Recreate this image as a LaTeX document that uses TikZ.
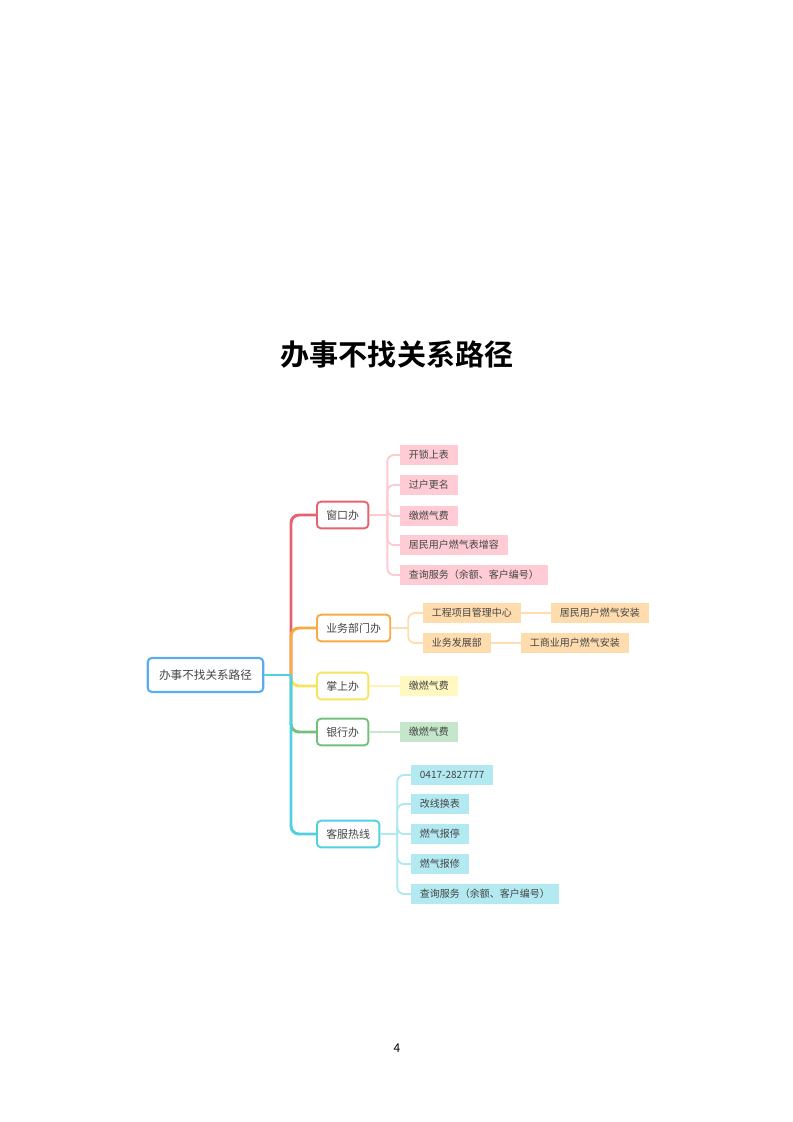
\documentclass[tikz,border=0pt]{standalone}
\usepackage{fontspec}
\setmainfont{Noto Sans CJK SC}[BoldFont={Noto Sans CJK SC Bold}]
\usetikzlibrary{positioning}

\definecolor{rootblue}{HTML}{5AAEF0}
\definecolor{txtgray}{HTML}{444444}
\definecolor{winred}{HTML}{E5636F}
\definecolor{winline}{HTML}{FFC9D0}
\definecolor{winfill}{HTML}{FFCCD5}
\definecolor{depor}{HTML}{F7A944}
\definecolor{depline}{HTML}{FFDDB3}
\definecolor{depfill}{HTML}{FFDCAE}
\definecolor{palmyel}{HTML}{F7E45C}
\definecolor{palmline}{HTML}{FFF3B5}
\definecolor{palmfill}{HTML}{FFF8C0}
\definecolor{bankgr}{HTML}{72C07A}
\definecolor{bankline}{HTML}{C8E8CC}
\definecolor{bankfill}{HTML}{C6E6CB}
\definecolor{hotcy}{HTML}{4FD1DF}
\definecolor{hotline}{HTML}{AEE8F0}
\definecolor{hotfill}{HTML}{B3EAF2}

\tikzset{
  rootbox/.style={draw=rootblue, line width=1.6pt, rounded corners=3pt, fill=white,
    text=txtgray, font=\fontsize{8.7}{10}\selectfont, minimum height=25.5pt, inner xsep=8.5pt},
  branchbox/.style={draw=#1, line width=1.4pt, rounded corners=3pt, fill=white,
    text=txtgray, font=\fontsize{8.2}{10}\selectfont, minimum height=20pt, inner xsep=7pt, anchor=west},
  leafbox/.style={fill=#1, text=txtgray, font=\fontsize{7.5}{9}\selectfont,
    minimum height=15.5pt, inner xsep=6.5pt, anchor=west},
  mainline/.style={draw=#1, line width=2.2pt, rounded corners=6pt},
  subline/.style={draw=#1, line width=1.4pt, rounded corners=5pt}
}

\begin{document}
\begin{tikzpicture}[x=0.75pt, y=-0.75pt]
  \useasboundingbox (0,0) rectangle (793,1122);

  % title
  \node[font=\fontsize{21.8}{24}\selectfont\bfseries] (title) at (397,355) {办事不找关系路径};

  % root and branches
  \node[rootbox] (root) at (205.5,675) {办事不找关系路径};
  \coordinate (hub) at (291,675);
  \node[branchbox=winred] (win) at (316,515) {窗口办};
  \node[branchbox=depor] (dep) at (316,628) {业务部门办};
  \node[branchbox=palmyel] (palm) at (316,686) {掌上办};
  \node[branchbox=bankgr] (bank) at (316,732) {银行办};
  \node[branchbox=hotcy] (hot) at (316,834) {客服热线};

  \draw[mainline=winred] (hub) |- (win.west);
  \draw[mainline=depor] (hub) |- (dep.west);
  \draw[mainline=palmyel] (hub) |- (palm.west);
  \draw[mainline=bankgr] (hub) |- (bank.west);
  \draw[mainline=hotcy] (hub) |- (hot.west);
  \draw[mainline=hotcy] (root.east) -- (hub);

  % window leaves
  \foreach \nm/\yy/\txt in {w1/455/开锁上表, w2/485/过户更名, w3/516/缴燃气费,
      w4/545/居民用户燃气表增容, w5/575/查询服务（余额、客户编号）}
    \node[leafbox=winfill] (\nm) at (400,\yy) {\txt};
  \draw[subline=winline] (win.east) -- ++(18,0) coordinate (winj);
  \foreach \nm in {w1,w2,w3,w4,w5}
    \draw[subline=winline] (winj) |- (\nm.west);

  % department leaves
  \node[leafbox=depfill] (d1) at (423,613) {工程项目管理中心};
  \node[leafbox=depfill] (d2) at (423,643) {业务发展部};
  \node[leafbox=depfill] (d3) at (551,613) {居民用户燃气安装};
  \node[leafbox=depfill] (d4) at (521,643) {工商业用户燃气安装};
  \draw[subline=depline] (dep.east) -- ++(17,0) coordinate (depj);
  \draw[subline=depline] (depj) |- (d1.west);
  \draw[subline=depline] (depj) |- (d2.west);
  \draw[subline=depline] (d1.east) -- (d3.west);
  \draw[subline=depline] (d2.east) -- (d4.west);

  % palm and bank leaves
  \node[leafbox=palmfill] (p1) at (400,686) {缴燃气费};
  \node[leafbox=bankfill] (b1) at (400,732) {缴燃气费};
  \draw[subline=palmline] (palm.east) -- (p1.west);
  \draw[subline=bankline] (bank.east) -- (b1.west);

  % hotline leaves
  \foreach \nm/\yy/\txt in {h1/775/0417-2827777, h2/804/改线换表, h3/834/燃气报停,
      h4/864/燃气报修, h5/894/查询服务（余额、客户编号）}
    \node[leafbox=hotfill] (\nm) at (411,\yy) {\txt};
  \draw[subline=hotline] (hot.east) -- ++(17,0) coordinate (hotj);
  \foreach \nm in {h1,h2,h3,h4,h5}
    \draw[subline=hotline] (hotj) |- (\nm.west);

  % page number
  \node[font=\fontsize{9}{10}\selectfont] (page) at (397,1048) {4};
\end{tikzpicture}
\end{document}
